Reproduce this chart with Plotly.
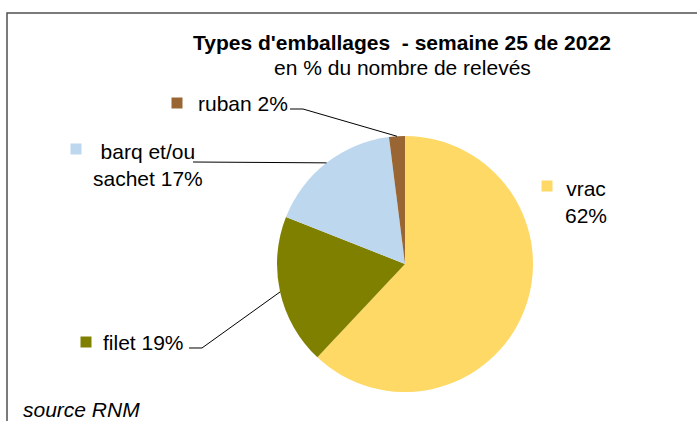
import numpy as np
import plotly.graph_objects as go

# data
categories = ["vrac", "filet", "barq et/ou sachet", "ruban"]
shares = [62, 19, 17, 2]
label_texts = ["vrac<br>62%", "filet 19%", "barq et/ou<br>sachet 17%", "ruban 2%"]
colors = ["#FFD966", "#808000", "#BDD7EE", "#996633"]

W, H = 697, 421
CX, CY, R = 405, 264, 128  # pie centre / radius in px

def px(x, y):
    """pixel (from top-left) -> paper coords"""
    return x / W, 1 - y / H

fig = go.Figure()
fig.add_trace(go.Pie(
    labels=categories,
    values=shares,
    sort=False,
    direction="clockwise",
    rotation=0,
    marker=dict(colors=colors, line=dict(width=0)),
    textinfo="none",
    hoverinfo="label+percent",
    showlegend=False,
    domain=dict(x=[(CX - R) / W, (CX + R) / W], y=[1 - (CY + R) / H, 1 - (CY - R) / H]),
))

# label layout: text centre, marker square centre, leader-line start / elbow
label_layout = [
    dict(text=(586, 202), square=(547, 186)),
    dict(text=(143, 342), square=(86, 342), start=(189, 348), elbow=(202, 348)),
    dict(text=(148, 165), square=(76, 149), start=(193, 162), elbow=None),
    dict(text=(243, 104), square=(177, 103), start=(290, 109), elbow=(303, 109)),
]

# mid angle of each slice -> point on the pie edge
cum = np.cumsum([0] + shares)
total = cum[-1]
annotations = []
shapes = []
for i, lay in enumerate(label_layout):
    mid = (cum[i] + cum[i + 1]) / 2 / total * 2 * np.pi
    ex, ey = CX + R * np.sin(mid), CY - R * np.cos(mid)
    tx, ty = px(*lay["text"])
    annotations.append(dict(
        x=tx, y=ty, xref="paper", yref="paper", text=label_texts[i],
        showarrow=False, xanchor="center", yanchor="middle", align="center",
        font=dict(size=21, color="#000000"),
    ))
    sx, sy = lay["square"]
    x0, y0 = px(sx - 5.5, sy + 5.5)
    x1, y1 = px(sx + 5.5, sy - 5.5)
    shapes.append(dict(type="rect", xref="paper", yref="paper", x0=x0, y0=y0, x1=x1, y1=y1,
                       fillcolor=colors[i], line=dict(width=0)))
    if "start" in lay:
        pts = [lay["start"]]
        if lay["elbow"]:
            pts.append(lay["elbow"])
        pts.append((ex, ey))
        path = "M " + " L ".join(f"{px(x, y)[0]:.5f},{px(x, y)[1]:.5f}" for x, y in pts)
        shapes.append(dict(type="path", xref="paper", yref="paper", path=path,
                           line=dict(color="#000000", width=1)))

# chart frame
fx0, fy0 = px(7, 13)
fx1, fy1 = px(720, 450)
shapes.append(dict(type="rect", xref="paper", yref="paper", x0=fx0, y0=fy1, x1=fx1, y1=fy0,
                   line=dict(color="#505050", width=1.5), fillcolor="rgba(0,0,0,0)"))

# titles and source
tx, ty = px(402, 42)
annotations.append(dict(x=tx, y=ty, xref="paper", yref="paper", showarrow=False,
                        text="<b>Types d'emballages&nbsp; - semaine 25 de 2022</b>",
                        xanchor="center", yanchor="middle", font=dict(size=21, color="#000000")))
tx, ty = px(402, 68)
annotations.append(dict(x=tx, y=ty, xref="paper", yref="paper", showarrow=False,
                        text="en % du nombre de relevés",
                        xanchor="center", yanchor="middle", font=dict(size=21, color="#000000")))
tx, ty = px(21, 409)
annotations.append(dict(x=tx, y=ty, xref="paper", yref="paper", showarrow=False,
                        text="<i>source RNM</i>",
                        xanchor="left", yanchor="middle", font=dict(size=21, color="#000000")))

fig.update_layout(
    width=W, height=H, autosize=False,
    margin=dict(l=0, r=0, t=0, b=0),
    paper_bgcolor="white", plot_bgcolor="white",
    font=dict(family="Liberation Sans, Arial, sans-serif"),
    annotations=annotations,
    shapes=shapes,
)

# drop the default 8px body margin so the figure fills the window
fig.write_html("out.html", config={"displayModeBar": False},
               post_script="document.body.style.margin='0';")
